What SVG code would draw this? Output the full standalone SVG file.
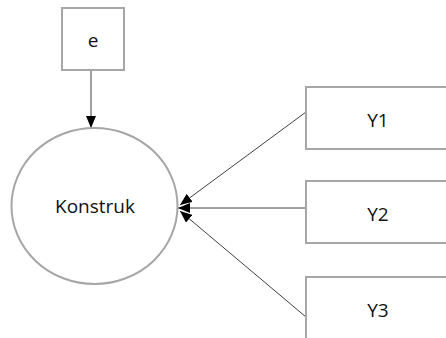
<svg xmlns="http://www.w3.org/2000/svg" width="446" height="338" viewBox="0 0 446 338">
  <style>
    .box { fill: #ffffff; stroke: #a6a6a6; stroke-width: 2; }
    .lbl { font-family: "Open Sans", "Noto Sans", sans-serif; font-size: 19px; fill: #111111; text-anchor: middle; }
    .edge { stroke: #404040; stroke-width: 1; fill: none; marker-end: url(#arrow); }
  </style>
  <defs>
    <marker id="arrow" markerUnits="userSpaceOnUse" markerWidth="12" markerHeight="10" refX="12" refY="5" orient="auto">
      <path d="M0,0 L12,5 L0,10 Z" fill="#000000"/>
    </marker>
  </defs>
  <rect x="0" y="0" width="446" height="338" fill="#ffffff"/>

  <g id="connectors">
    <line class="edge" x1="91" y1="70" x2="91" y2="128"/>
    <line class="edge" x1="306" y1="112" x2="180" y2="205"/>
    <line class="edge" x1="306" y1="208" x2="178" y2="208"/>
    <line class="edge" x1="306" y1="317" x2="180" y2="211"/>
  </g>

  <g id="node-e">
    <rect class="box" x="62" y="8" width="62" height="62"/>
    <text class="lbl" x="93" y="47">e</text>
  </g>

  <g id="node-konstruk">
    <ellipse cx="94.5" cy="206" rx="83" ry="78" fill="#ffffff" stroke="#a6a6a6" stroke-width="2"/>
    <text class="lbl" x="95" y="213">Konstruk</text>
  </g>

  <g id="node-y1">
    <rect class="box" x="306" y="87" width="144" height="62"/>
    <text class="lbl" x="378" y="127">Y1</text>
  </g>

  <g id="node-y2">
    <rect class="box" x="306" y="181" width="144" height="62"/>
    <text class="lbl" x="378" y="221">Y2</text>
  </g>

  <g id="node-y3">
    <rect class="box" x="306" y="277" width="144" height="70"/>
    <text class="lbl" x="378" y="317">Y3</text>
  </g>
</svg>
